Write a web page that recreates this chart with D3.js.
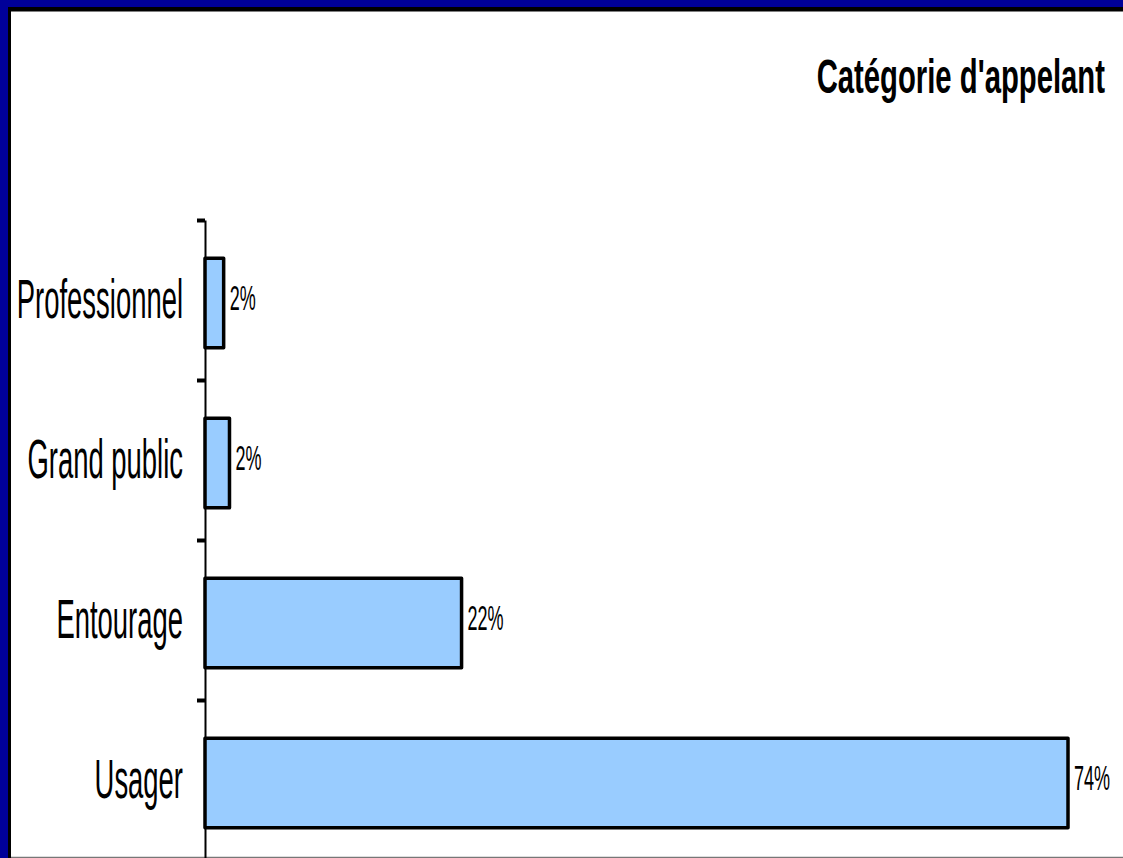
<!DOCTYPE html>
<html><head><meta charset="utf-8">
<script src="https://cdn.jsdelivr.net/npm/d3@7"></script>
<style>html,body{margin:0;padding:0;background:#fff;overflow:hidden}svg{display:block}</style>
</head><body><svg id="c" width="1123" height="858"></svg>
<script>
const categories = ["Professionnel", "Grand public", "Entourage", "Usager"];
const values = [1.6, 2.1, 22, 74];
const valueLabels = ["2%", "2%", "22%", "74%"];
const titleText = "Catégorie d'appelant";

const W = 1123, H = 858;
const svg = d3.select("#c");
const font = "'Liberation Sans', Arial, sans-serif";

svg.append("rect").attr("width", W).attr("height", H).attr("fill", "#fff");
// frame
svg.append("rect").attr("x", 0).attr("y", 0).attr("width", W).attr("height", 7).attr("fill", "#000099");
svg.append("rect").attr("x", 0).attr("y", 0).attr("width", 8).attr("height", H).attr("fill", "#000099");
svg.append("rect").attr("x", 8).attr("y", 7).attr("width", W - 8).attr("height", 4.5).attr("fill", "#000");
svg.append("rect").attr("x", 8).attr("y", 7).attr("width", 3).attr("height", H - 7).attr("fill", "#000");
svg.append("line").attr("x1", 11).attr("x2", W).attr("y1", 857.5).attr("y2", 857.5).attr("stroke", "#777").attr("stroke-width", 1.5);

const x = d3.scaleLinear().domain([0, 74]).range([205, 1068]);
const y = d3.scaleBand().domain(categories).range([223, 863]).paddingInner(0.44).paddingOuter(0.22);

// axis (tick marks between categories)
const axisScale = d3.scalePoint().domain(d3.range(categories.length + 1)).range([220, 860]);
const ag = svg.append("g").attr("transform", "translate(205,0)")
  .call(d3.axisLeft(axisScale).tickSize(8).tickFormat("").tickSizeOuter(0));
ag.select(".domain").attr("stroke", "#000").attr("stroke-width", 2);
ag.selectAll(".tick line").attr("stroke", "#000").attr("stroke-width", 4);

// bars
svg.append("g").selectAll("rect").data(categories).join("rect")
  .attr("x", x(0))
  .attr("y", d => y(d))
  .attr("width", (d, i) => x(values[i]) - x(0))
  .attr("height", y.bandwidth())
  .attr("fill", "#99ccff")
  .attr("stroke", "#000")
  .attr("stroke-width", 3.5)
  .attr("stroke-linejoin", "round");

// value labels
svg.append("g").selectAll("text").data(categories).join("text")
  .attr("transform", (d, i) => `translate(${x(values[i]) + 6},${y(d) + y.bandwidth() / 2 - 6}) scale(0.5,1)`)
  .attr("dy", "0.35em")
  .attr("font-family", font)
  .attr("font-size", 36)
  .attr("fill", "#000")
  .text((d, i) => valueLabels[i]);

// category labels
svg.append("g").selectAll("text").data(categories).join("text")
  .attr("transform", d => `translate(183,${y(d) + y.bandwidth() / 2 - 5}) scale(0.49,1)`)
  .attr("dy", "0.35em")
  .attr("text-anchor", "end")
  .attr("font-family", font)
  .attr("font-size", 56)
  .attr("fill", "#000")
  .text(d => d);

// title
svg.append("text")
  .attr("transform", "translate(1105,93) scale(0.61,1)")
  .attr("text-anchor", "end")
  .attr("font-family", font)
  .attr("font-weight", "bold")
  .attr("font-size", 48)
  .attr("fill", "#000")
  .text(titleText);
</script></body></html>
